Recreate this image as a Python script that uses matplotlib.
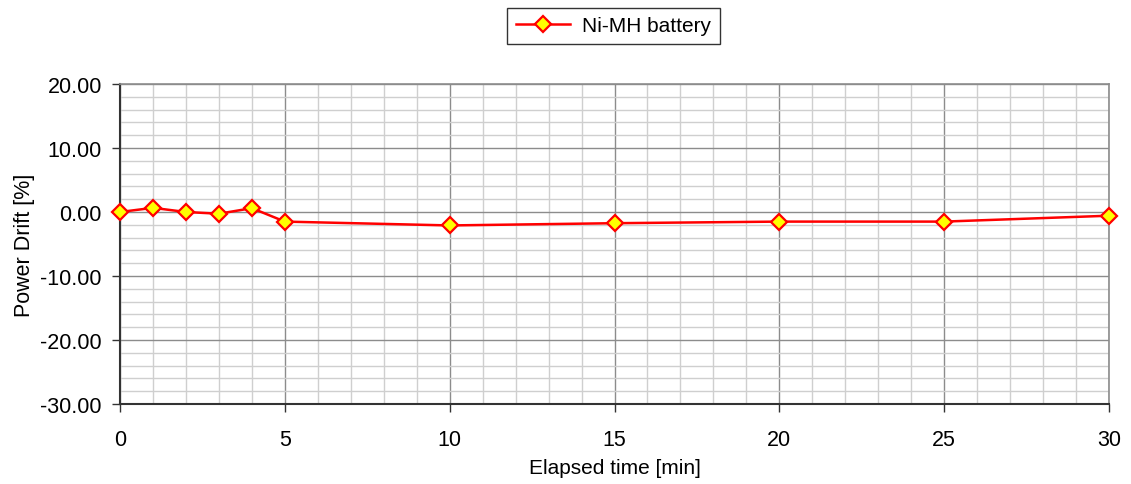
import matplotlib
matplotlib.use("Agg")
import matplotlib.pyplot as plt
from matplotlib.ticker import MultipleLocator, FormatStrFormatter

plt.rcParams['font.family'] = ['Liberation Sans', 'DejaVu Sans']

time_min = [0, 1, 2, 3, 4, 5, 10, 15, 20, 25, 30]
drift_pct = [0.0, 0.65, 0.0, -0.27, 0.6, -1.5, -2.1, -1.75, -1.5, -1.5, -0.58]
series_name = "Ni-MH battery"

fig = plt.figure(figsize=(11.31, 4.85), dpi=100)
ax = fig.add_axes([120/1131, 1-405/485, (1109-120)/1131, (405-85)/485])

ax.plot(time_min, drift_pct, color='#ff0000', lw=1.8, marker='D', ms=8.5,
        mfc='#ffff00', mec='#ff0000', mew=1.6, label=series_name, zorder=5, clip_on=False)

ax.set_xlim(0, 30)
ax.set_ylim(-30, 20)
ax.xaxis.set_major_locator(MultipleLocator(5))
ax.xaxis.set_minor_locator(MultipleLocator(1))
ax.yaxis.set_major_locator(MultipleLocator(10))
ax.yaxis.set_minor_locator(MultipleLocator(2))
ax.yaxis.set_major_formatter(FormatStrFormatter('%.2f'))

ax.grid(which='major', color='#8c8c8c', lw=1.0)
ax.grid(which='minor', color='#cfcfcf', lw=1.0)
ax.set_axisbelow(True)

ax.tick_params(which='major', direction='out', length=6, width=1, color='#333333',
               labelsize=15.5)
ax.tick_params(axis='y', pad=7)
ax.tick_params(axis='x', pad=12)
ax.tick_params(which='minor', length=0)
for s in ['left', 'bottom']:
    ax.spines[s].set_color('#333333')
    ax.spines[s].set_linewidth(1.5)
for s in ['top', 'right']:
    ax.spines[s].set_color('#8c8c8c')
    ax.spines[s].set_linewidth(1.2)

ax.set_xlabel('Elapsed time [min]', fontsize=15, labelpad=6)
ax.set_ylabel('Power Drift [%]', fontsize=15.5, labelpad=4)

leg = fig.legend(loc='center', bbox_to_anchor=(613.5/1131, 1-27/485), fontsize=15,
                 frameon=True, fancybox=False, edgecolor='#000000', borderpad=0.4,
                 handlelength=2.6, handletextpad=0.6)
leg.get_frame().set_linewidth(1.0)

fig.savefig('out.png', dpi=100)
